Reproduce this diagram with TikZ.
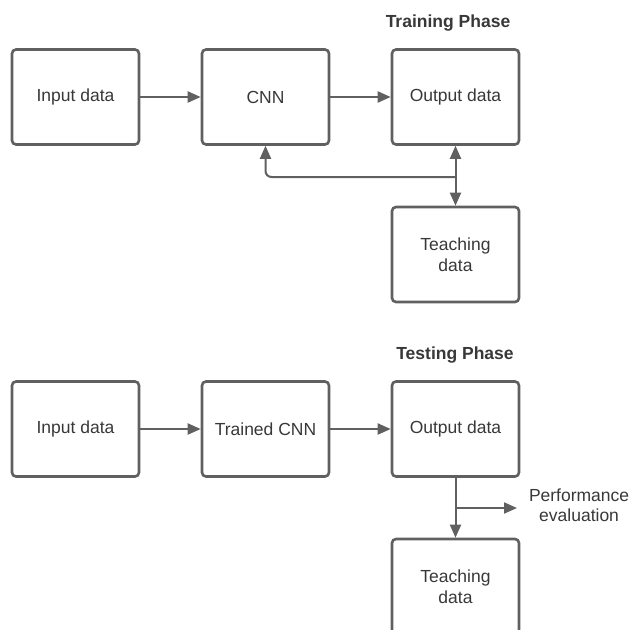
\documentclass[tikz,border=0pt]{standalone}
\usepackage{fontspec}
\setmainfont{Liberation Sans}
\usetikzlibrary{arrows.meta}
\definecolor{lc}{HTML}{606060}
\definecolor{tc}{HTML}{383838}
\begin{document}
\begin{tikzpicture}[x=1pt,y=1pt,
  box/.style={draw=lc, line width=2.6pt, rounded corners=4pt, minimum width=127pt, minimum height=95pt,
    align=center, text=tc, font=\fontsize{17.5}{20.5}\selectfont, inner sep=0pt},
  conn/.style={draw=lc, line width=2pt, -{Triangle[length=13pt,width=11pt]}},
  both/.style={draw=lc, line width=2pt, {Triangle[length=13pt,width=11pt]}-{Triangle[length=13pt,width=11pt]}},
  title/.style={text=tc, font=\fontsize{17.5}{20.5}\selectfont\bfseries, inner sep=0pt},
  lbl/.style={text=tc, font=\fontsize{17.5}{20.5}\selectfont, align=center, inner sep=0pt}]
\useasboundingbox (0,0) rectangle (630,-630);
\begin{scope}
\clip (0,0) rectangle (630,-630);
% Training
\node[title] (t1) at (448,-23) {Training Phase};
\node[box] (in1) at (75.5,-97) {Input data};
\node[box] (cnn1) at (265.5,-97) {CNN};
\node[box] (out1) at (455.5,-97) {Output data};
\node[box] (teach1) at (455.5,-254.5) {Teaching\\data};
\draw[conn] (in1) -- (cnn1);
\draw[conn] (cnn1) -- (out1);
\draw[both] (out1.south) -- (teach1.north);
\coordinate (j1) at (455.5,-177);
\draw[conn, rounded corners=6pt] (j1) -| (cnn1.south);
% Testing
\node[title] (t2) at (455,-355) {Testing Phase};
\node[box] (in2) at (75.5,-429) {Input data};
\node[box] (cnn2) at (265.5,-429) {Trained CNN};
\node[box] (out2) at (455.5,-429) {Output data};
\node[box] (teach2) at (455.5,-586.5) {Teaching\\data};
\draw[conn] (in2) -- (cnn2);
\draw[conn] (cnn2) -- (out2);
\draw[conn] (out2.south) -- (teach2.north);
\coordinate (j2) at (455.5,-508);
\node[lbl, anchor=west, outer sep=0pt] (perf) at (529,-505) {Performance\\evaluation};
\coordinate (pe) at (517,-508);
\draw[conn] (j2) -- (pe);
\end{scope}
\end{tikzpicture}
\end{document}
